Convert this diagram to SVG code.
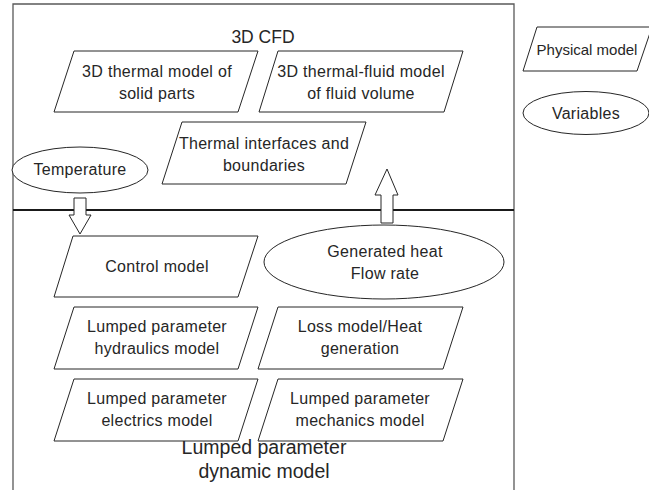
<svg xmlns="http://www.w3.org/2000/svg" width="649" height="490" viewBox="0 0 649 490">
<style>
.frame{fill:none;stroke:#595959;stroke-width:1.3}
.div{fill:none;stroke:#1a1a1a;stroke-width:2}
.shape{fill:#fff;stroke:#262626;stroke-width:1}
.arrow{fill:#fff;stroke:#262626;stroke-width:1}
text{font-family:"Liberation Sans",Arial,sans-serif;fill:#262626;text-anchor:middle}
.t{font-size:16px;letter-spacing:0.3px}
.s{font-size:15px}
.big{font-size:17.5px}
.lg{font-size:19.5px}
</style>
<rect width="649" height="490" fill="#fff"/>
<g id="frame">
<polyline class="frame" points="13,490 13,4 514,4 514,490"/>
<line class="div" x1="13" y1="210" x2="514" y2="210"/>
<text class="big" x="263" y="43">3D CFD</text>
<text class="lg" x="264" y="454">Lumped parameter</text>
<text class="lg" x="264" y="478">dynamic model</text>
</g>
<g id="n-solid">
<polygon class="shape" points="74,51 258,51 238,112 54,112"/>
<text class="t" x="157" y="77">3D thermal model of</text>
<text class="t" x="157" y="99">solid parts</text>
</g>
<g id="n-fluid">
<polygon class="shape" points="278,51 463,51 444,112 259,112"/>
<text class="t" x="361" y="77">3D thermal-fluid model</text>
<text class="t" x="361" y="99">of fluid volume</text>
</g>
<g id="n-interfaces">
<polygon class="shape" points="182,122 366,122 346,184 162,184"/>
<text class="t" x="264" y="149">Thermal interfaces and</text>
<text class="t" x="264" y="171">boundaries</text>
</g>
<g id="n-temperature">
<ellipse class="shape" cx="80" cy="170" rx="68" ry="23"/>
<text class="t" x="80" y="175">Temperature</text>
</g>
<g id="n-control">
<polygon class="shape" points="73,236 258,236 238,297 54,297"/>
<text class="t" x="157" y="272">Control model</text>
</g>
<g id="n-heat">
<ellipse class="shape" cx="384" cy="262" rx="120" ry="37"/>
<text class="t" x="385" y="257">Generated heat</text>
<text class="t" x="385" y="279">Flow rate</text>
</g>
<g id="n-hydraulics">
<polygon class="shape" points="74,307 258,307 238,369 54,369"/>
<text class="t" x="157" y="332">Lumped parameter</text>
<text class="t" x="157" y="354">hydraulics model</text>
</g>
<g id="n-loss">
<polygon class="shape" points="278,307 463,307 443,369 258,369"/>
<text class="t" x="360" y="332">Loss model/Heat</text>
<text class="t" x="360" y="354">generation</text>
</g>
<g id="n-electrics">
<polygon class="shape" points="74,379 258,379 238,441 54,441"/>
<text class="t" x="157" y="404">Lumped parameter</text>
<text class="t" x="157" y="426">electrics model</text>
</g>
<g id="n-mechanics">
<polygon class="shape" points="278,379 463,379 443,441 258,441"/>
<text class="t" x="360" y="404">Lumped parameter</text>
<text class="t" x="360" y="426">mechanics model</text>
</g>
<g id="legend-physical">
<polygon class="shape" points="537,27 652,27 637,71 523,71"/>
<text class="s" x="587" y="55">Physical model</text>
</g>
<g id="legend-variables">
<ellipse class="shape" cx="586" cy="113" rx="63" ry="21.5"/>
<text class="t" x="586" y="119">Variables</text>
</g>
<g id="connectors">
<polygon class="arrow" points="74,198 86,198 86,215 91,215 80,234 69,215 74,215"/>
<polygon class="arrow" points="381,223 393,223 393,195 398,195 387,169 375,195 381,195"/>
</g>
</svg>
